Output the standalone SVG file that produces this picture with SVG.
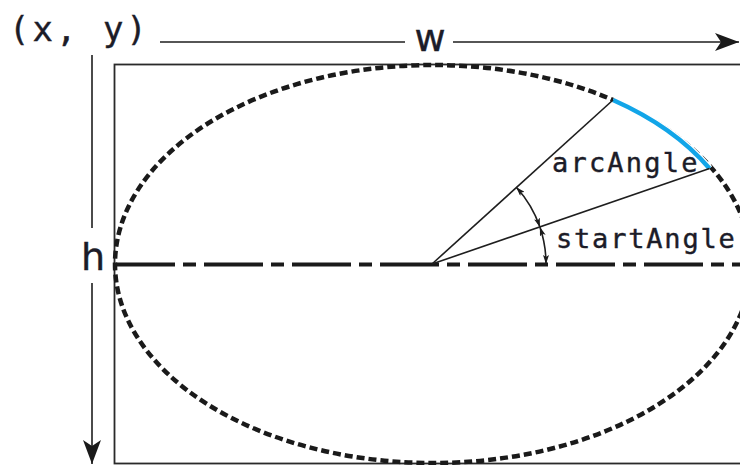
<svg xmlns="http://www.w3.org/2000/svg" width="740" height="465" viewBox="0 0 740 465">
<style>
.thin{fill:none;stroke:#1e1e1e;stroke-width:1.6}
.frame{fill:none;stroke:#2a2a2a;stroke-width:1.8}
.ell{fill:none;stroke:#1a1a1a;stroke-width:4.5;stroke-dasharray:8 4}
.axis{fill:none;stroke:#1a1a1a;stroke-width:4;stroke-dasharray:59 8 13 8}
.under{fill:none;stroke:#fff;stroke-width:7}
.blue{fill:none;stroke:#12a5e8;stroke-width:4.5;stroke-linecap:butt}
.mono{font-family:"DejaVu Sans Mono","Liberation Mono",monospace;fill:#1c1c28;stroke:#1c1c28;stroke-width:0.4}
.sans{font-family:"DejaVu Sans","Liberation Sans",sans-serif;fill:#1c1c28;stroke:#1c1c28;stroke-width:0.4}
</style>
<defs>
<marker id="big" markerUnits="userSpaceOnUse" viewBox="0 0 24 18" refX="24" refY="9" markerWidth="24" markerHeight="18" orient="auto">
<path d="M0,0 L24,9 L0,18 L6,9 z" fill="#1a1a1a"/>
</marker>
<marker id="small" markerUnits="userSpaceOnUse" viewBox="0 0 9 6" refX="9" refY="3" markerWidth="9" markerHeight="6" orient="auto-start-reverse">
<path d="M0,0 L9,3 L0,6 L2,3 z" fill="#1a1a1a"/>
</marker>
</defs>
<rect width="740" height="465" fill="#fff"/>
<g id="frame">
<rect class="frame" x="114.5" y="64.5" width="640" height="399"/>
</g>
<g id="ellipse">
<ellipse class="ell" cx="433" cy="264" rx="318" ry="199"/>
<path class="under" d="M709.5,168.5 A318,199 0 0 0 613,100"/>
<path class="blue" d="M709.5,168.5 A318,199 0 0 0 613,100"/>
</g>
<g id="axis">
<path class="axis" d="M116,264.5 H740"/>
</g>
<g id="connectors">
<path class="thin" d="M160,42 H405"/>
<path class="thin" d="M453,42 H739" marker-end="url(#big)"/>
<path class="thin" d="M92,55 V228"/>
<path class="thin" d="M92,283 V464" marker-end="url(#big)"/>
<path class="thin" d="M432,264 L613,100"/>
<path class="thin" d="M432,264 L709.5,168.5"/>
<path class="thin" d="M516.3,187.3 A114,114 0 0 1 539.9,227.1" marker-start="url(#small)" marker-end="url(#small)"/>
<path class="thin" d="M539.9,227.1 A114,114 0 0 1 546,264" marker-start="url(#small)" marker-end="url(#small)"/>
</g>
<g id="labels">
<text class="mono" x="9" y="41" font-size="34" letter-spacing="3">(x, y)</text>
<text class="sans" x="430" y="51" font-size="38" text-anchor="middle">w</text>
<text class="sans" x="93" y="270" font-size="38" text-anchor="middle">h</text>
<text class="mono" x="552" y="172" font-size="27" letter-spacing="2.2">arcAngle</text>
<text class="mono" x="556" y="248" font-size="27" letter-spacing="1.8">startAngle</text>
</g>
</svg>
